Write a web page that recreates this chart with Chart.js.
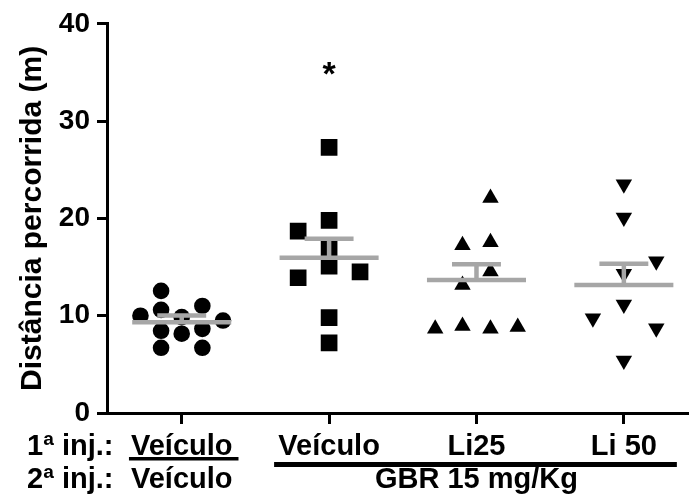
<!DOCTYPE html>
<html>
<head>
<meta charset="utf-8">
<script src="https://cdn.jsdelivr.net/npm/chart.js@4"></script>
<style>
  html, body { margin: 0; padding: 0; overflow: hidden; background: #fff; }
  canvas { display: block; }
</style>
</head>
<body>
<canvas id="chart" width="689" height="497"></canvas>
<script>
// data
const groupPos = [1, 2, 3, 4];
const firstInjection = ['Veículo', 'Veículo', 'Li25', 'Li 50'];
const secondInjection = ['Veículo', 'GBR 15 mg/Kg'];
const injLabels = ['1ª inj.:', '2ª inj.:'];

const veiculoVeiculo = [12.55, 10.0, 10.6, 9.85, 11.0, 9.5, 8.45, 8.15, 8.65, 6.7, 6.7];
const veiculoVeiculoSpread = [-0.14, -0.28, -0.14, 0, 0.14, 0.28, -0.14, 0, 0.14, -0.14, 0.14];
const veiculoGbr = [27.3, 19.8, 18.7, 17.0, 15.1, 13.9, 14.5, 9.8, 7.2];
const veiculoGbrSpread = [0, 0, -0.21, 0, 0, -0.21, 0.21, 0, 0];
const li25Gbr = [22.1, 17.25, 17.55, 14.55, 13.15, 8.65, 8.95, 8.65, 8.85];
const li25GbrSpread = [0.095, -0.095, 0.095, 0.095, -0.095, -0.28, -0.095, 0.095, 0.28];
const li50Gbr = [23.5, 20.1, 15.6, 14.3, 11.15, 9.75, 8.7, 5.4];
const li50GbrSpread = [0, 0, 0.22, 0, 0, -0.21, 0.22, 0];

const means = [9.33, 15.95, 13.68, 13.16];
const sems = [0.68, 1.95, 1.6, 2.19];
const significance = [{ group: 2, y: 35.2, text: '*' }];

const FONT = '"Liberation Sans", Arial, sans-serif';
const GREY = '#a6a6a6';
const MEAN_HALF = 0.336;
const CAP_HALF = 0.166;

function toPoints(values, spread, g) {
    return values.map((v, i) => ({ x: g + spread[i], y: v }));
}

function meanSemPoints(i) {
    const g = groupPos[i], m = means[i], top = means[i] + sems[i];
    return [
        { x: g - MEAN_HALF, y: m }, { x: g + MEAN_HALF, y: m }, { x: g, y: null },
        { x: g, y: m }, { x: g, y: top }, { x: g, y: null },
        { x: g - CAP_HALF, y: top }, { x: g + CAP_HALF, y: top }
    ];
}

const pointSets = [
    { data: toPoints(veiculoVeiculo, veiculoVeiculoSpread, 1), pointStyle: 'circle', pointRadius: 8.3, pointRotation: 0 },
    { data: toPoints(veiculoGbr, veiculoGbrSpread, 2), pointStyle: 'rect', pointRadius: 11.8, pointRotation: 0 },
    { data: toPoints(li25Gbr, li25GbrSpread, 3), pointStyle: 'triangle', pointRadius: 9.5, pointRotation: 0 },
    { data: toPoints(li50Gbr, li50GbrSpread, 4), pointStyle: 'triangle', pointRadius: 9.5, pointRotation: 180 }
].map(d => Object.assign(d, {
    backgroundColor: '#000', borderColor: '#000', borderWidth: 0, showLine: false, order: 2
}));

const lineSets = groupPos.map((g, i) => ({
    data: meanSemPoints(i),
    showLine: true, spanGaps: false, pointRadius: 0,
    borderColor: GREY, borderWidth: 4.5, order: 1
}));

const labelPlugin = {
    id: 'groupLabels',
    afterDraw(chart) {
        const ctx = chart.ctx;
        const xs = chart.scales.x, ys = chart.scales.y;
        const base = xs.top;
        const px = v => xs.getPixelForValue(v);
        ctx.save();
        ctx.fillStyle = '#000';
        ctx.font = 'bold 29px ' + FONT;
        ctx.textBaseline = 'alphabetic';

        ctx.textAlign = 'left';
        ctx.fillText(injLabels[0], 27, base + 42);
        ctx.fillText(injLabels[1], 27, base + 75);

        ctx.textAlign = 'center';
        firstInjection.forEach((t, i) => ctx.fillText(t, px(groupPos[i]), base + 42));

        // underline for the first group, bar across the GBR groups
        const w1 = ctx.measureText(firstInjection[0]).width;
        ctx.fillRect(px(groupPos[0]) - w1 / 2 - 2, base + 44, w1 + 8, 3.5);
        const barL = px(groupPos[1]) - 55, barR = px(groupPos[3]) + 53;
        ctx.fillRect(barL, base + 49, barR - barL, 5);

        ctx.fillText(secondInjection[0], px(groupPos[0]), base + 75);
        ctx.fillText(secondInjection[1], px(groupPos[2]), base + 75);

        ctx.font = 'bold 34px ' + FONT;
        significance.forEach(s => ctx.fillText(s.text, px(s.group), ys.getPixelForValue(s.y) + 14));
        ctx.restore();
    }
};

new Chart(document.getElementById('chart'), {
    type: 'scatter',
    data: { datasets: [...lineSets, ...pointSets] },
    options: {
        responsive: false,
        animation: false,
        layout: { autoPadding: false, padding: { top: 21, left: 0, right: 0, bottom: 0 } },
        plugins: { legend: { display: false }, tooltip: { enabled: false } },
        scales: {
            x: {
                type: 'linear',
                min: 0.493,
                max: 4.442,
                afterBuildTicks: scale => { scale.ticks = groupPos.map(v => ({ value: v })); },
                afterFit: scale => { scale.height = 84; },
                ticks: { display: false },
                grid: { drawOnChartArea: false, drawTicks: true, tickLength: 11, color: '#000', lineWidth: 3 },
                border: { display: true, color: '#000', width: 3 }
            },
            y: {
                min: 0,
                max: 40,
                afterFit: scale => { scale.width = 107; },
                ticks: { stepSize: 10, color: '#000', padding: 7, font: { family: FONT, size: 28, weight: 'bold' } },
                grid: { drawOnChartArea: false, drawTicks: true, tickLength: 10, color: '#000', lineWidth: 3 },
                border: { display: true, color: '#000', width: 3 },
                title: {
                    display: true,
                    text: 'Distância percorrida (m)',
                    color: '#000',
                    padding: { top: 15, bottom: 0 },
                    font: { family: FONT, size: 30, weight: 'bold' }
                }
            }
        }
    },
    plugins: [labelPlugin]
});
</script>
</body>
</html>
